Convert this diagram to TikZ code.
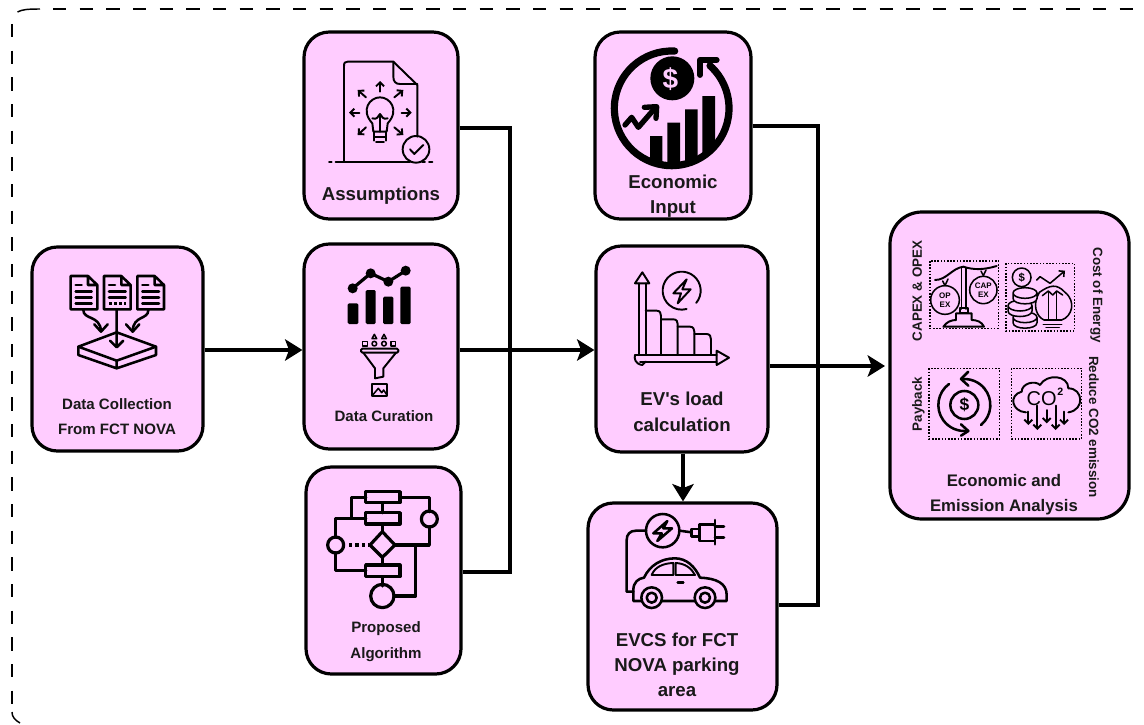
\documentclass[tikz,border=0pt]{standalone}
\usepackage{fontspec}
\setmainfont{Liberation Sans}
\newfontfamily\plainface{Liberation Sans}
\usetikzlibrary{arrows.meta,calc}
\definecolor{panelpink}{HTML}{FFCCFF}
\newcommand{\pinkbox}[6][]{\pgfmathsetmacro\bw{(#5-#3)*0.75}\pgfmathsetmacro\bh{(#6-#4)*0.75}\node[panel,minimum width=\bw pt,minimum height=\bh pt,#1] (#2) at ({(#3+#5)/2},{(#4+#6)/2}) {};}
\newcommand{\docicon}[2]{\draw[ico,line join=round,shift={(#1,#2)}] (0,0)--(52,0)--(80,27)--(80,100)--(0,100)--cycle (52,0)--(52,27)--(80,27);}
\tikzset{
  panel/.style={draw=black,fill=panelpink,line width=2.4pt,rounded corners=19pt,inner sep=0pt},
  link/.style={draw=black,line width=2.4pt,line join=miter},
  tip/.style={-{Stealth[length=13pt,width=16pt,inset=3pt]}},
  capmid/.style={inner sep=0pt,text depth=0pt,text=black!90},
  lab/.style={font=\fontsize{14pt}{16pt}\selectfont\bfseries,capmid,text height=10pt},
  labm/.style={font=\fontsize{11.3pt}{13pt}\selectfont\bfseries,capmid,text height=8.1pt},
  labn/.style={font=\fontsize{12.55pt}{14pt}\selectfont\bfseries,capmid,text height=9pt},
  labs/.style={font=\fontsize{10.05pt}{12pt}\selectfont\bfseries,capmid,text height=7.2pt},
  ico/.style={draw=black,line width=1.9pt,line cap=round,line join=round},
  icot/.style={draw=black,line width=2.4pt,line cap=round,line join=round},
  thin ico/.style={draw=black,line width=1.45pt,line cap=round,line join=round},
  fine ico/.style={draw=black,line width=1.15pt,line cap=round,line join=round},
  barb/.style={-{Straight Barb[length=3pt,width=6pt]}},
  frame/.style={draw=black,line width=1.1pt},
  dotbox/.style={draw=black,line width=1.1pt,dash pattern=on 1.2pt off 1.2pt},
  zoomed/.style={x=0.25pt,y=-0.25pt},
}
\begin{document}
\begin{tikzpicture}[x=0.75pt,y=-0.75pt]
\useasboundingbox (0,0) rectangle (1144,724);
\fill[white] (0,0) rectangle (1144,724);
\clip (0,0) rectangle (1144,724);
% dashed frame
\draw[frame,dash pattern=on 10pt off 10pt] (53,9) -- (1144,9);
\draw[frame] (17.5,12) .. controls (22,9.5) and (28,9) .. (40,9);
\draw[frame,dash pattern=on 10pt off 10pt] (12,24) -- (12,708);
\draw[frame] (12,712) .. controls (12,717) and (15,720) .. (20,723);

% boxes
\pinkbox{collect}{32}{247}{203}{451}
\pinkbox{assume}{304}{32}{458}{219}
\pinkbox{curate}{304}{244}{458}{449}
\pinkbox{algo}{306}{467}{461}{674}
\pinkbox{econ}{595}{32}{751}{219}
\pinkbox{load}{596}{246}{768}{452}
\pinkbox{evcs}{588}{503}{777}{710}
\pinkbox[rounded corners=24pt]{result}{890}{212}{1129}{519}

% connectors
\coordinate (busA) at (510,128);
\coordinate (busB) at (510,572);
\coordinate (busC) at (818,126);
\coordinate (busD) at (818,605);
\draw[link,tip] (collect.east |- 0,350) -- (curate.west |- 0,350);
\draw[link] (assume.east |- busA) -- (busA) -- (busB) -- (algo.east |- busB);
\draw[link,tip] (curate.east |- 0,350) -- (load.west |- 0,350);
\draw[link] (econ.east |- busC) -- (busC) -- (busD) -- (evcs.east |- busD);
\coordinate (outEnd) at (885,366);
\draw[link,tip] (load.east |- outEnd) -- (outEnd);
\draw[link,tip] (load.south -| 683,0) -- (evcs.north -| 683,0);

% labels
\node[labm] (t1a) at (117,404) {Data Collection};
\node[labm] (t1b) at (117,429) {From FCT NOVA};
\node[lab] (t2) at (381,194) {Assumptions};
\node[labm] (t3) at (384,416) {Data Curation};
\node[labm] (t4a) at (386,627) {Proposed};
\node[labm] (t4b) at (386,653) {Algorithm};
\node[lab] (t5a) at (673,182) {Economic};
\node[lab] (t5b) at (673,207) {Input};
\node[lab] (t6a) at (682,399) {EV{\plainface\bfseries '}s load};
\node[lab] (t6b) at (682,425) {calculation};
\node[lab] (t7a) at (677,640) {EVCS for FCT};
\node[lab] (t7b) at (677,664.5) {NOVA parking};
\node[lab] (t7c) at (677,689.5) {area};
\node[labn] (t8a) at (1004,480) {Economic and};
\node[labn] (t8b) at (1004,505.5) {Emission Analysis};
\node[labs,rotate=90] (t9) at (917,291) {CAPEX \& OPEX};
\node[labs,rotate=-90] (t10) at (1098,295) {Cost of Energy};
\node[labs,rotate=90] (t11) at (917,404) {Payback};
\node[labs,rotate=-90] (t12) at (1094,427) {Reduce CO2 emission};

% icon: data collection
\begin{scope}[shift={(0,230)},zoomed]
\docicon{212}{138}\docicon{312}{138}\docicon{412}{138}
\draw[ico] (227,165)--(245,165) (227,185)--(275,185) (227,203)--(275,203) (227,221)--(275,221);
\draw[ico] (327,165)--(345,165) (327,185)--(377,185) (327,203)--(377,203);
\draw[ico,dash pattern=on 1.9pt off 1.9pt,line cap=butt] (327,221)--(377,221);
\draw[ico] (427,165)--(445,165) (427,185)--(477,185) (427,203)--(477,203) (427,221)--(477,221);
\draw[ico] (250,240) .. controls (250,270) and (300,255) .. (303,303);
\draw[ico] (283,283)--(303,305)--(323,283);
\draw[ico] (445,240) .. controls (445,270) and (400,255) .. (398,303);
\draw[ico] (378,283)--(398,305)--(418,283);
\draw[ico] (350,240)--(350,350) (330,332)--(350,352)--(370,332);
\draw[ico] (235,350)--(350,307)--(468,350)--(350,392)--cycle;
\draw[ico] (235,350)--(235,375)--(350,415)--(468,375)--(468,350) (350,392)--(350,415);
\end{scope}

% icon: assumptions
\begin{scope}[shift={(295,20)},zoomed]
\draw[thin ico] (147,425)--(147,138) .. controls (147,128) and (150,125) .. (158,125) -- (295,125) -- (367,195) -- (367,350);
\draw[thin ico] (295,125)--(295,170) .. controls (295,185) and (302,192) .. (315,192) -- (367,192);
\draw[thin ico] (122,427)--(345,427) (102,427)--(110,427) (382,427)--(390,427) (402,427)--(412,427);
\draw[thin ico] (363,388) circle[radius=40];
\draw[thin ico] (345,388)--(358,402)--(385,375);
\draw[thin ico] (232,310) .. controls (195,270) and (225,232) .. (255,232) .. controls (285,232) and (315,270) .. (278,310) -- (275,335) -- (235,335) -- cycle;
\draw[thin ico] (255,335)--(255,285) (232,295) .. controls (245,300) and (250,290) .. (255,282) .. controls (260,290) and (265,300) .. (278,295);
\draw[thin ico] (238,350)--(272,350) (243,365)--(267,365) (238,335)--(238,362) (272,335)--(272,362);
\foreach \ax/\ay/\bx/\by in {255/215/255/183, 213/232/188/210, 298/232/325/210, 193/278/162/278, 320/278/350/278, 213/322/188/345, 298/322/325/345}{
  \draw[thin ico,barb] (\ax,\ay)--(\bx,\by);}
\end{scope}

% icon: data curation
\begin{scope}[shift={(295,240)},zoomed]
\draw[line width=2.4pt,black] (173,145)--(227,100)--(280,125)--(332,92);
\foreach \p in {(173,145),(227,100),(280,125),(332,92)}{\fill[black] \p circle[radius=15];}
\fill[black,rounded corners=1pt] (158,190) rectangle (190,252) (212,150) rectangle (242,252) (264,170) rectangle (295,252) (316,140) rectangle (347,252);
\draw[thin ico,rounded corners=1pt] (198,326) rectangle (310,338);
\draw[thin ico] (205,338)--(240,385)--(240,415)--(265,410)--(265,385)--(303,338);
\draw[fine ico] (203,304) rectangle (217,318) (288,304) rectangle (302,318);
\draw[fine ico] (238,311) circle[radius=7] (267,311) circle[radius=7];
\draw[fine ico] (231,296)--(238,283)--(245,296)--cycle (260,296)--(267,283)--(274,296)--cycle;
\draw[thin ico] (231,433) rectangle (277,468);
\draw[fine ico] (234,464)--(250,445)--(260,458)--(266,450)--(275,464);
\end{scope}

% icon: proposed algorithm
\begin{scope}[shift={(295,460)},zoomed]
\draw[icot] (212,112)--(170,112)--(170,175) (122,232)--(122,175)--(212,175)
 (315,112)--(403,112)--(403,155) (403,200)--(403,255)--(298,255)
 (262,128)--(262,158) (262,192)--(262,215) (262,292)--(262,315)
 (212,332)--(122,332)--(122,278) (262,350)--(262,378) (297,408)--(362,408)--(362,255);
\draw[icot,line cap=butt,dash pattern=on 2.4pt off 2.4pt] (162,255)--(222,255);
\draw[icot] (212,95) rectangle (315,128) (212,158) rectangle (315,192) (212,315) rectangle (315,350);
\draw[icot] (262,215)--(300,255)--(262,292)--(225,255)--cycle;
\draw[icot] (403,177) circle[radius=24] (122,255) circle[radius=24] (262,408) circle[radius=35];
\end{scope}

% icon: economic input
\begin{scope}[shift={(585,20)},zoomed]
\draw[line width=5.4pt,line cap=round,black] (260,265) ++(-87:172) arc[start angle=-87,end angle=-408,radius=172];
\draw[line width=4.4pt,line cap=round,line join=round,black] (345,165)--(345,120)--(395,120);
\fill[black] (262,175) circle[radius=66];
\node[font=\fontsize{21pt}{21pt}\selectfont\bfseries,text=panelpink,inner sep=0pt] (dollarA) at (256,178) {\$};
\begin{scope}
\clip (260,265) circle[radius=172];
\fill[black] (195,348) rectangle (232,450) (247,308) rectangle (285,450) (300,268) rectangle (338,450) (352,228) rectangle (390,450);
\end{scope}
\draw[line width=4pt,line cap=round,line join=round,black] (120,315)--(140,292)--(160,322)--(212,262);
\draw[line width=4pt,line cap=round,line join=round,black] (178,262)--(215,260)--(213,295);
\end{scope}

% icon: load calculation
\begin{scope}[shift={(585,240)},zoomed]
\draw[thin ico] (163,130)--(163,345) (182,130)--(182,345);
\draw[thin ico] (150,130)--(172,97)--(193,130)--cycle;
\draw[thin ico] (150,345)--(395,345) (165,365)--(395,365);
\draw[thin ico] (150,345) .. controls (147,355) and (150,372) .. (172,375) -- (182,365);
\draw[thin ico] (395,332)--(432,353)--(395,375)--cycle;
\draw[thin ico] (182,212)--(215,212) .. controls (225,212) and (228,220) .. (228,228) -- (228,345);
\draw[thin ico] (228,238)--(265,238) .. controls (275,238) and (278,245) .. (278,252) -- (278,345);
\draw[thin ico] (278,260)--(315,260) .. controls (325,260) and (328,268) .. (328,275) -- (328,345);
\draw[thin ico] (328,282)--(365,282) .. controls (375,282) and (378,290) .. (378,298) -- (378,345);
\draw[thin ico] (290,152) ++(40:57) arc[start angle=40,end angle=-285,radius=57];
\draw[thin ico] (305,118)--(265,160)--(288,160)--(278,190)--(317,148)--(292,148)--cycle;
\end{scope}

% icon: charging station
\begin{scope}[shift={(580,495)},zoomed]
\draw[ico] (248,107) circle[radius=50];
\draw[ico] (262,78)--(220,115)--(245,115)--(232,138)--(276,100)--(250,100)--cycle;
\draw[ico] (198,107)--(168,107) .. controls (150,107) and (140,118) .. (140,135) -- (140,290) -- (160,290);
\draw[ico] (298,107)--(335,112);
\draw[ico] (335,102) rectangle (358,124);
\draw[ico] (358,88) -- (405,88) -- (405,138) -- (358,138) -- cycle;
\draw[ico] (405,75)--(405,148) (405,95)--(432,95) (405,128)--(432,128);
\draw[ico] (182,318)--(160,318)--(160,285) .. controls (160,262) and (175,250) .. (192,248) .. controls (210,210) and (245,190) .. (285,190) .. controls (320,190) and (345,215) .. (360,248) .. controls (410,250) and (440,265) .. (440,300) -- (440,318) -- (408,318) (245,318)--(345,318);
\draw[thin ico] (215,240) .. controls (225,215) and (250,205) .. (280,204) -- (280,240) -- cycle;
\draw[thin ico] (287,204) .. controls (315,205) and (335,220) .. (345,240) -- (287,240) -- cycle;
\draw[ico] (293,262)--(310,262);
\draw[ico] (215,308) circle[radius=31] (215,308) circle[radius=15] (375,308) circle[radius=31] (375,308) circle[radius=15];
\end{scope}

% result icons, upper row
\begin{scope}[shift={(880,205)},zoomed]
\draw[dotbox] (150,168) rectangle (355,370) (378,175) rectangle (583,378);
\draw[fine ico] (245,190)--(245,312) (258,190)--(258,312);
\draw[thin ico] (165,225) .. controls (200,225) and (215,190) .. (250,185) .. controls (280,195) and (310,195) .. (350,183);
\draw[fine ico] (195,242)--(188,228) (195,242)--(204,222) (310,212)--(303,198) (310,212)--(318,195);
\draw[fine ico] (195,285) circle[radius=43] (310,255) circle[radius=41];
\draw[thin ico] (240,310) rectangle (265,325);
\draw[thin ico] (190,365) .. controls (200,350) and (215,345) .. (228,345) -- (228,325) -- (275,325) -- (275,345) .. controls (290,345) and (305,350) .. (312,365) -- cycle;
\node[font=\fontsize{6pt}{6.5pt}\selectfont\bfseries,inner sep=0pt,align=center] (opex) at (195,285) {OP\\EX};
\node[font=\fontsize{6pt}{6.5pt}\selectfont\bfseries,inner sep=0pt,align=center] (capex) at (310,255) {CAP\\EX};
% cost of energy
\draw[fine ico] (425,217) circle[radius=28];
\node[font=\fontsize{8.5pt}{8.5pt}\selectfont\bfseries,inner sep=0pt] (dollarB) at (425,217) {\$};
\draw[fine ico] (478,262) .. controls (510,240) and (530,235) .. (555,262) .. controls (590,290) and (575,335) .. (545,345) -- (492,345) .. controls (470,335) and (455,300) .. (478,262);
\draw[fine ico] (505,345)--(505,262) (530,345)--(530,262);
\draw[fine ico] (487,272)--(505,258)--(518,270)--(530,258)--(548,270);
\draw[fine ico] (490,358)--(545,358) (498,368)--(538,368);
\draw[fine ico,barb] (470,225)--(480,215)--(510,235)--(555,197);
\foreach \cx/\cy in {435/345,420/310,435/272}{
  \draw[fine ico,fill=panelpink] (\cx-36,\cy-8) arc[start angle=180,end angle=540,x radius=36,y radius=16] -- (\cx-36,\cy+8) .. controls (\cx-36,\cy+30) and (\cx+36,\cy+30) .. (\cx+36,\cy+8) -- (\cx+36,\cy-8);}
\end{scope}

% result icons, lower row
\begin{scope}[shift={(880,355)},zoomed]
\draw[dotbox] (147,40) rectangle (358,252) (395,40) rectangle (605,252);
\draw[ico] (253,150) circle[radius=42];
\node[font=\fontsize{13pt}{13pt}\selectfont\bfseries,inner sep=0pt] (dollarC) at (253,150) {\$};
\draw[ico] (253,150) ++(50:78) arc[start angle=50,end angle=-95,radius=78];
\draw[ico] (265,50)--(243,72)--(265,92);
\draw[ico] (253,150) ++(-126:78) arc[start angle=-126,end angle=-278,radius=78];
\draw[ico] (243,208)--(265,228)--(243,242);
\draw[thin ico] (438,172) .. controls (395,170) and (385,120) .. (425,110) .. controls (425,85) and (465,75) .. (480,90) .. controls (500,55) and (565,60) .. (565,100) .. controls (610,100) and (615,165) .. (565,172);
\node[font=\fontsize{15pt}{15pt}\selectfont,inner sep=0pt] (cotext) at (485,130) {CO};
\node[font=\fontsize{8pt}{8pt}\selectfont\bfseries,inner sep=0pt] (sup2) at (541,111) {2};
\foreach \ax/\ay/\by in {445/170/210,472/152/225,500/165/205,527/152/225,552/170/210}{
  \draw[thin ico,barb] (\ax,\ay)--(\ax,\by);}
\end{scope}
\end{tikzpicture}
\end{document}
